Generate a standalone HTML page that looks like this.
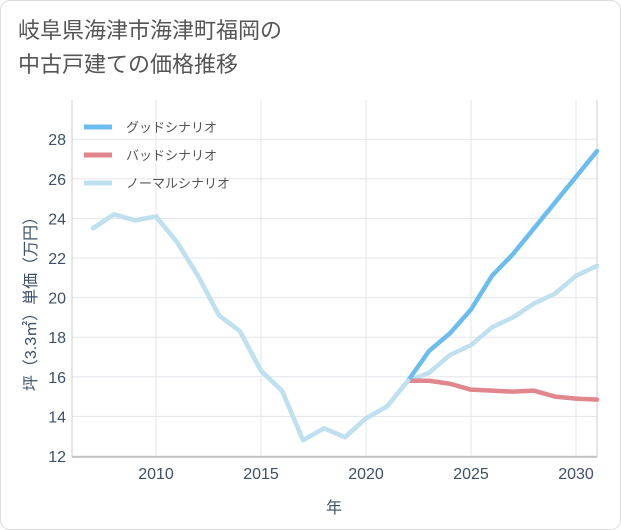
<!DOCTYPE html>
<html><head><meta charset="utf-8"><style>
body{margin:0;background:#fff;font-family:"Liberation Sans","Noto Sans CJK JP",sans-serif;}
#card{position:absolute;left:0;top:0;width:619px;height:528px;border:1px solid #ddd;border-radius:10px;background:#fff;}
#title{position:absolute;left:18px;top:14px;font-size:22px;line-height:34px;color:#555;font-family:"Liberation Sans","Noto Sans CJK JP",sans-serif;}
svg{position:absolute;left:0;top:0;}
</style></head><body>
<div id="card"></div>
<div id="title">岐阜県海津市海津町福岡の<br>中古戸建ての価格推移</div>
<svg id="chart" width="621" height="530"></svg>
<script>
const years=[2007,2008,2009,2010,2011,2012,2013,2014,2015,2016,2017,2018,2019,2020,2021,2022,2023,2024,2025,2026,2027,2028,2029,2030,2031];
const normalVals=[23.5,24.2,23.9,24.1,22.8,21.1,19.1,18.3,16.3,15.3,12.8,13.4,12.95,13.9,14.5,15.8,16.2,17.1,17.6,18.5,19.0,19.7,20.2,21.1,21.6];
const goodYears=[2022,2023,2024,2025,2026,2027,2028,2029,2030,2031];
const goodVals=[15.8,17.3,18.2,19.4,21.1,22.2,23.5,24.8,26.1,27.4];
const badVals=[15.8,15.8,15.65,15.35,15.3,15.25,15.3,15.0,14.9,14.85];
const yTicks=[12,14,16,18,20,22,24,26,28];
const xTicks=[2010,2015,2020,2025,2030];
const seriesNames=["グッドシナリオ","バッドシナリオ","ノーマルシナリオ"];
const colors=["#6bbdf0","#e0868c","#bfe0ee"];
const L=72,R=597,T=100,B=457;
const x=v=>156+(v-2010)*21;
const y=v=>456-(v-12)*19.8;
const svg=document.getElementById('chart');
const NS='http://www.w3.org/2000/svg';
const labelColor='#3d5068';
function mk(t,a){const e=document.createElementNS(NS,t);for(const k in a)e.setAttribute(k,a[k]);svg.appendChild(e);return e;}
let bg=mk('rect',{x:L,y:T,width:R-L,height:B-T,fill:'#fff',stroke:'none'});


yTicks.forEach(t=>{
 let g=mk('line',{x1:L,x2:R,y1:y(t),y2:y(t),stroke:'#e3e6ea','stroke-width':1});
 
 
 let tx=mk('text',{x:L-6,y:y(t)+6,'text-anchor':'end','font-size':16,fill:labelColor});
 tx.textContent=t;
 
 
});
xTicks.forEach(t=>{
 let g=mk('line',{x1:x(t),x2:x(t),y1:T,y2:B,stroke:'#e3e6ea','stroke-width':1});
 
 
 let tx=mk('text',{x:x(t),y:B+22,'text-anchor':'middle','font-size':16,fill:labelColor});
 tx.textContent=t;
 
 
});
let ax=mk('line',{x1:L,x2:R,y1:B,y2:B,stroke:'#999','stroke-width':1});


let ay=mk('line',{x1:L,x2:L,y1:T,y2:B,stroke:'#ccc','stroke-width':1});


let ar=mk('line',{x1:R,x2:R,y1:T,y2:B,stroke:'#ccc','stroke-width':1});


function line(xs,vs,c,name){
 const p=mk('polyline',{points:xs.map((v,i)=>x(v)+','+y(vs[i])).join(' '),fill:'none',stroke:c,'stroke-width':4.5,'stroke-linejoin':'round','stroke-linecap':'round'});
 
 
}
line(years,normalVals,colors[2],'normal-scenario-line');
line(goodYears,badVals,colors[1],'bad-scenario-line');
line(goodYears,goodVals,colors[0],'good-scenario-line');
line(years.slice(0,16),normalVals.slice(0,16),colors[2],'normal-history-line');
seriesNames.forEach((n,i)=>{
 const yy=127+i*28;
 let l=mk('line',{x1:84,x2:112,y1:yy,y2:yy,stroke:colors[i],'stroke-width':5});
 
 
 let t=mk('text',{x:126,y:yy+5,'font-size':13,fill:'#555'});
 t.textContent=n;
 
 
});
let xt=mk('text',{x:334,y:513,'text-anchor':'middle','font-size':16,fill:labelColor});
xt.textContent='年';


let yt=mk('text',{x:0,y:0,'text-anchor':'middle','font-size':16,fill:labelColor,transform:'translate(36,300) rotate(-90)'});
yt.textContent='坪（3.3㎡）単価（万円）';


</script>
</body></html>
